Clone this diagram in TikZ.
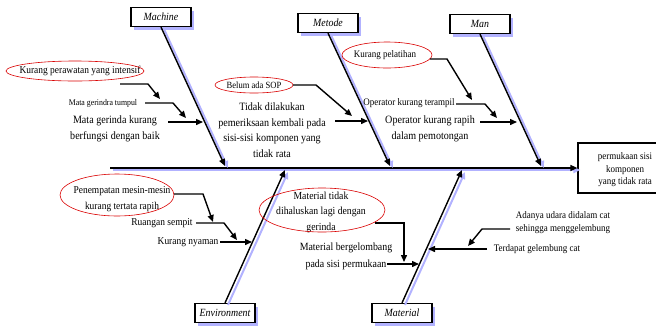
\documentclass[tikz,border=0pt]{standalone}
\usepackage{fontspec}
\setmainfont{Liberation Serif}[FakeStretch=0.9]
\usetikzlibrary{arrows.meta,shadows,calc}
\begin{document}
\begin{tikzpicture}[x=1pt, y=-1pt,
  cat/.style = {draw, line width=1.2pt, fill=white, minimum width=60pt, minimum height=19pt, inner sep=1pt,
    font=\itshape\fontsize{11}{12}\selectfont,
    drop shadow={fill=blue!30, shadow xshift=3pt, shadow yshift=-3pt, opacity=1}},
  head/.style = {draw, line width=1.2pt, fill=white, minimum width=84pt, minimum height=50pt},
  oval/.style = {draw=red!85!black, line width=0.6pt},
  txt/.style = {align=center, inner sep=1pt, font=\fontsize{10.5}{12}\selectfont},
  big/.style = {txt, font=\fontsize{11.2}{15.5}\selectfont},
  bone/.style = {line width=1.4pt, -{Triangle[length=7pt,width=6pt]},
    preaction={draw=blue!30, line width=2pt, transform canvas={shift={(3pt,-2pt)}}}},
  sub/.style = {line width=1.4pt, -{Triangle[length=7pt,width=6pt]}}]

  \useasboundingbox (0,0) rectangle (656,325);

  \node[head] (effect) at (620,168) {};
  \node[txt, font=\fontsize{10}{12.5}\selectfont] (efftext) at (625,170) {permukaan sisi\\ komponen\\ yang tidak rata};
  \coordinate (tail) at (110,168);
  \draw[bone] (tail) -- (effect.west);

  \node[cat] (machine) at (161,17) {Machine};
  \node[cat] (metode) at (328,23) {Metode};
  \node[cat] (man) at (480,24) {Man};
  \node[cat] (env) at (225,313) {Environment};
  \node[cat] (material) at (402,313) {Material};

  \coordinate (machine end) at (225,166);
  \coordinate (metode end) at (390,166);
  \coordinate (man end) at (541,166);
  \coordinate (env end) at (285,170);
  \coordinate (material end) at (462,170);
  \draw[bone] (machine.south) -- (machine end);
  \draw[bone] (metode.south) -- (metode end);
  \draw[bone] (man.south) -- (man end);
  \draw[bone] (env.north) -- (env end);
  \draw[bone] (material.north) -- (material end);

  \node[txt] (kp) at (80,71) {Kurang perawatan yang intensif};
  \draw[oval] (75,71) ellipse [x radius=69pt, y radius=10pt];
  \node[txt, font=\fontsize{8.7}{10}\selectfont] (mgt) at (103,103) {Mata gerindra tumpul};
  \node[big] (mgk) at (115,129) {Mata gerinda kurang\\ berfungsi dengan baik};
  \coordinate (kp start) at (120,84);
  \coordinate (kp tip) at (160,99);
  \coordinate (mgt start) at (145,103);
  \coordinate (mgt tip) at (186,118);
  \coordinate (mgk start) at (168,122);
  \coordinate (mgk tip) at (203,122);
  \draw[sub] (kp start) -- ++(28,0) -- (kp tip);
  \draw[sub] (mgt start) -- ++(28,0) -- (mgt tip);
  \draw[sub] (mgk start) -- (mgk tip);

  \node[txt, font=\fontsize{9.5}{11}\selectfont] (bas) at (254,85) {Belum ada SOP};
  \draw[oval] (bas) ellipse [x radius=39pt, y radius=8pt];
  \node[big] (tdk) at (272,130) {Tidak dilakukan\\ pemeriksaan kembali pada\\ sisi-sisi komponen yang\\ tidak rata};
  \coordinate (bas start) at (293,85);
  \coordinate (bas tip) at (352,116);
  \coordinate (tdk start) at (335,121);
  \coordinate (tdk tip) at (368,121);
  \draw[sub] (bas start) -- ++(23,0) -- (bas tip);
  \draw[sub] (tdk start) -- (tdk tip);

  \node[txt, font=\fontsize{10}{11}\selectfont] (kpl) at (385,55) {Kurang pelatihan};
  \draw[oval] (387,55) ellipse [x radius=45pt, y radius=13pt];
  \node[txt, font=\fontsize{10}{11}\selectfont] (okt) at (409,103) {Operator kurang terampil};
  \node[big] (okr) at (430,129) {Operator kurang rapih\\ dalam pemotongan};
  \coordinate (kpl start) at (430,59);
  \coordinate (kpl tip) at (472,100);
  \coordinate (okt start) at (456,104);
  \coordinate (okt tip) at (497,118);
  \coordinate (okr start) at (480,122);
  \coordinate (okr tip) at (517,122);
  \draw[sub] (kpl start) -- ++(17,0) -- (kpl tip);
  \draw[sub] (okt start) -- ++(29,0) -- (okt tip);
  \draw[sub] (okr start) -- (okr tip);

  \node[txt, font=\fontsize{10.5}{16}\selectfont] (pmm) at (122,199) {Penempatan mesin-mesin\\ kurang tertata rapih};
  \draw[oval] (117,195) ellipse [x radius=57pt, y radius=21pt];
  \node[txt] (rs) at (162,223) {Ruangan sempit};
  \node[txt] (kn) at (188,242) {Kurang nyaman};
  \coordinate (pmm start) at (174,194);
  \coordinate (pmm tip) at (213,222);
  \coordinate (rs start) at (196,223);
  \coordinate (rs tip) at (237,240);
  \coordinate (kn start) at (220,242);
  \coordinate (kn tip) at (252,242);
  \draw[sub] (pmm start) -- ++(29,0) -- (pmm tip);
  \draw[sub] (rs start) -- ++(28,0) -- (rs tip);
  \draw[sub] (kn start) -- (kn tip);

  \node[txt, font=\fontsize{10.8}{15.5}\selectfont] (mtd) at (321,212) {Material tidak\\ dihaluskan lagi dengan\\ gerinda};
  \draw[oval] (322,210) ellipse [x radius=63pt, y radius=22pt];
  \node[txt, font=\fontsize{11}{17}\selectfont] (mbg) at (346,256) {Material bergelombang\\ pada sisi permukaan};
  \node[txt, font=\fontsize{10}{13}\selectfont] (auc) at (563,223) {Adanya udara didalam cat\\ sehingga menggelembung};
  \node[txt, font=\fontsize{10}{11}\selectfont] (tgc) at (537,249) {Terdapat gelembung cat};
  \coordinate (mtd start) at (375,223);
  \coordinate (mtd tip) at (404,262);
  \coordinate (mbg start) at (387,264);
  \coordinate (mbg tip) at (419,264);
  \coordinate (auc start) at (510,229);
  \coordinate (auc tip) at (468,246);
  \coordinate (tgc start) at (487,249);
  \coordinate (tgc tip) at (428,249);
  \draw[sub] (mtd start) -| (mtd tip);
  \draw[sub] (mbg start) -- (mbg tip);
  \draw[sub] (auc start) -- ++(-28,0) -- (auc tip);
  \draw[sub] (tgc start) -- (tgc tip);
\end{tikzpicture}
\end{document}
